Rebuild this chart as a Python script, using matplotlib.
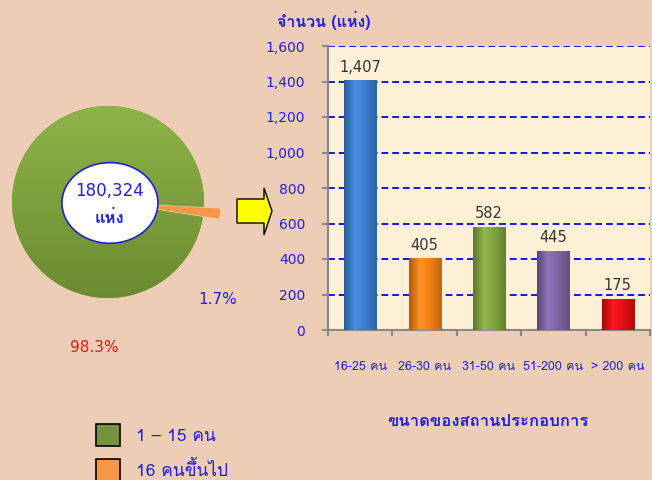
import matplotlib
matplotlib.use("Agg")
import matplotlib.pyplot as plt
import numpy as np
from matplotlib.patches import Ellipse, Polygon, Patch
from matplotlib.colors import LinearSegmentedColormap, to_rgb

plt.rcParams['font.family'] = ['DejaVu Sans', 'Loma']
thai = ['Loma', 'DejaVu Sans']

# data
pie_labels = ["1 – 15 คน", "16 คนขึ้นไป"]
pie_pct = [98.3, 1.7]
pie_total = "180,324"
size_groups = ["16-25 คน", "26-30 คน", "31-50 คน", "51-200 คน", "> 200 คน"]
size_counts = [1407, 405, 582, 445, 175]
bar_colors = ["#3a7ccc", "#f07d14", "#7ea03c", "#7b62a0", "#e00d12"]

W, H = 652, 480
bg = "#edcdb5"
blue = "#1f1fe6"

fig = plt.figure(figsize=(W / 100, H / 100), dpi=100, facecolor=bg)


def px(x, y, w=0, h=0):
    # pixel box (top-left origin) -> figure fraction
    return [x / W, 1 - (y + h) / H, w / W, h / H]


# ---- pie ----
cx, cy, r = 108, 202, 96
side = r * 2.6
axp = fig.add_axes(px(cx - side / 2, cy - side / 2, side, side))
axp.set_facecolor("none")
start = -6 - pie_pct[1] * 3.6 / 2
wedges, _ = axp.pie(pie_pct[::-1], colors=["#f79646", "#7a9e3a"], startangle=start,
                    explode=[0.17, 0], radius=1.0,
                    wedgeprops=dict(linewidth=0))

# shading on the green wedge, light at top
grad = np.linspace(0, 1, 256).reshape(-1, 1)
cm_pie = LinearSegmentedColormap.from_list("p", ["#8db449", "#6b8b30"])
im = axp.imshow(grad, cmap=cm_pie, extent=[-1, 1, -1, 1], origin="upper",
                aspect="auto", zorder=1.5)
im.set_clip_path(wedges[1])
axp.set_xlim(-1.3, 1.3)
axp.set_ylim(-1.3, 1.3)
axp.set_aspect("equal")
axp.axis("off")

axp.add_patch(Ellipse((0.02, -0.01), 1.0, 0.84, facecolor="white", edgecolor="#2020d0",
                      linewidth=1.2, zorder=3))
axp.text(0.02, 0.11, pie_total, ha="center", va="center", color=blue, fontsize=12, zorder=4)
axp.text(0.02, -0.17, "แห่ง", ha="center", va="center", color=blue, fontsize=12,
         fontweight="bold", family=thai, zorder=4)

fig.text(218 / W, 1 - 300 / H, f"{pie_pct[1]}%", color=blue, fontsize=11,
         ha="center", va="center")
fig.text(94 / W, 1 - 347 / H, f"{pie_pct[0]}%", color="#f01414", fontsize=11,
         ha="center", va="center")

# legend
handles = [Patch(facecolor=c, edgecolor="black", linewidth=1.2) for c in ["#76923c", "#f79646"]]
fig.legend(handles, pie_labels, loc="upper left", bbox_to_anchor=(96 / W, 1 - 424 / H),
           frameon=False, prop=dict(family=thai, size=12.5), handlelength=1.4,
           handleheight=1.6, handletextpad=0.9, labelspacing=0.72, borderpad=0,
           borderaxespad=0, labelcolor=blue)

# arrow
arrow = [(237, 199), (264, 199), (264, 188), (272, 211), (264, 235), (264, 223), (237, 223)]
fig.patches.append(Polygon([(x / W, 1 - y / H) for x, y in arrow], closed=True,
                           facecolor="#ffff00", edgecolor="black", linewidth=1,
                           transform=fig.transFigure, figure=fig))

# ---- bars ----
ax = fig.add_axes(px(328, 46, 322, 284))
ax.set_facecolor("#fdf0d6")
x = np.arange(len(size_groups))
bars = ax.bar(x, size_counts, width=0.5, color=bar_colors, zorder=3, linewidth=0)

for b, c in zip(bars, bar_colors):
    rgb = np.array(to_rgb(c))
    dark = rgb * 0.72
    light = np.minimum(rgb * 1.08 + 0.04, 1)
    cmap = LinearSegmentedColormap.from_list("b", [dark, light, rgb, rgb * 0.8])
    bx, bw, bh = b.get_x(), b.get_width(), b.get_height()
    g = ax.imshow(np.linspace(0, 1, 128).reshape(1, -1), cmap=cmap, aspect="auto",
                  extent=[bx, bx + bw, 0, bh], zorder=3.5)
    g.set_clip_path(b)

ax.set_xlim(-0.5, len(size_groups) - 0.5)
ax.set_ylim(0, 1600)
ax.set_yticks(np.arange(0, 1601, 200))
ax.set_yticklabels([f"{v:,}" for v in range(0, 1601, 200)])
ax.yaxis.grid(True, color="#1414ee", linestyle=(0, (3.5, 2)), linewidth=1.4, zorder=1)
ax.set_axisbelow(True)

for xi, v in zip(x, size_counts):
    ax.annotate(f"{v:,}", (xi, v), xytext=(0, 4), textcoords="offset points",
                ha="center", va="bottom", fontsize=10.5, color="#333333", zorder=5)

ax.set_xticks(x)
ax.set_xticklabels(size_groups, family=thai)
ax.set_xticks(np.arange(-0.5, len(size_groups)), minor=True)
ax.tick_params(axis="x", which="major", length=0, pad=22, labelsize=9, labelcolor=blue)
ax.tick_params(axis="x", which="minor", length=4, color="#888888", width=1.5)
ax.tick_params(axis="y", length=4.5, color="#888888", width=1.5, pad=12,
               labelsize=10, labelcolor=blue)

for s in ["top", "right"]:
    ax.spines[s].set_visible(False)
for s in ["left", "bottom"]:
    ax.spines[s].set_color("#888888")
    ax.spines[s].set_linewidth(1.5)

fig.text(324 / W, 1 - 20 / H, "จำนวน (แห่ง)", color=blue, fontsize=11.5,
         fontweight="bold", family=thai, ha="center", va="center")
fig.text(488 / W, 1 - 421 / H, "ขนาดของสถานประกอบการ", color=blue, fontsize=12,
         fontweight="bold", family=thai, ha="center", va="center")

fig.savefig("out.png", dpi=100, facecolor=bg)
